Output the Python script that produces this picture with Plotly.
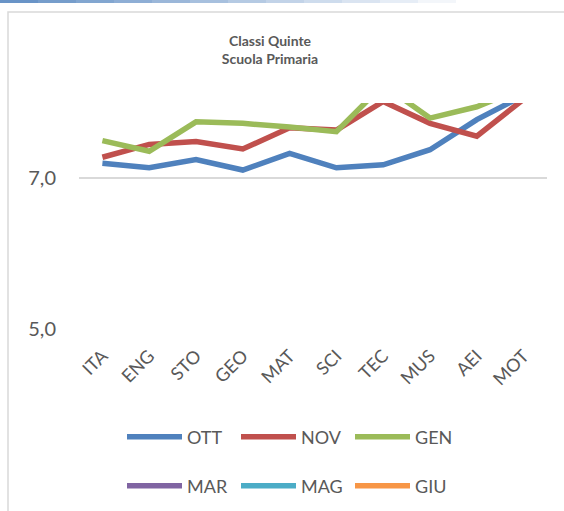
import plotly.graph_objects as go

categories = ["ITA", "ENG", "STO", "GEO", "MAT", "SCI", "TEC", "MUS", "AEI", "MOT"]
ott = [7.20, 7.14, 7.25, 7.11, 7.33, 7.14, 7.18, 7.38, 7.78, 8.10]
nov = [7.28, 7.45, 7.49, 7.39, 7.67, 7.64, 8.02, 7.73, 7.56, 8.05]
gen = [7.50, 7.36, 7.75, 7.73, 7.68, 7.62, 8.24, 7.80, 7.95, 8.20]
mar = [None] * 10
mag = [None] * 10
giu = [None] * 10

series = [
    ("OTT", ott, "#4F81BD", "legend"),
    ("NOV", nov, "#C0504D", "legend"),
    ("GEN", gen, "#9BBB59", "legend"),
    ("MAR", mar, "#8064A2", "legend2"),
    ("MAG", mag, "#4BACC6", "legend2"),
    ("GIU", giu, "#F79646", "legend2"),
]

W, H = 564, 511
L, R, T, B = 79, 17, 103, 182

fig = go.Figure()
for name, vals, color, lg in series:
    fig.add_trace(go.Scatter(
        x=categories, y=vals, name=name, mode="lines",
        line=dict(color=color, width=5.5, shape="linear"),
        legend=lg, showlegend=True, connectgaps=False,
    ))

gray = "#595959"
font_family = "Lato, 'Open Sans', sans-serif"

def px_x(p):
    return (p - L) / (W - L - R)

def px_y(p):
    return 1 - (p - T) / (H - T - B)

shapes = [
    dict(type="rect", xref="paper", yref="paper",
         x0=px_x(8), x1=px_x(600), y0=px_y(12), y1=px_y(560),
         line=dict(color="#D9D9D9", width=1.5), fillcolor="rgba(0,0,0,0)", layer="below"),
]
# top blue gradient strip
n = 12
for i in range(n):
    a = 0.85 * (1 - i / n)
    shapes.append(dict(type="rect", xref="paper", yref="paper",
                       x0=px_x(i * 38), x1=px_x((i + 1) * 38), y0=px_y(0), y1=px_y(3),
                       line=dict(width=0), fillcolor=f"rgba(79,129,189,{a:.2f})"))

leg_common = dict(orientation="h", xref="container", yref="container",
                  xanchor="left", yanchor="middle",
                  font=dict(size=18, color=gray), itemwidth=55,
                  entrywidth=44, entrywidthmode="pixels", tracegroupgap=0,
                  bgcolor="rgba(0,0,0,0)")

fig.update_layout(
    width=W, height=H,
    margin=dict(l=L, r=R, t=T, b=B, autoexpand=False),
    paper_bgcolor="white", plot_bgcolor="white",
    separators=",.",
    font=dict(family=font_family, color=gray),
    title=dict(text="<b>Classi Quinte<br>Scuola Primaria</b>",
               x=270 / W, xref="container", xanchor="center",
               y=1 - 46 / H, yref="container", yanchor="top",
               font=dict(size=14, color=gray, family=font_family)),
    xaxis=dict(
        type="category", range=[-0.5, 9.5], showgrid=False, showline=False,
        zeroline=False, tickangle=-45, tickfont=dict(size=18, color=gray),
        ticks="", automargin=False, ticklabelstandoff=12,
    ),
    yaxis=dict(
        range=[5, 8], tick0=5, dtick=2, tickformat=".1f",
        showgrid=True, gridcolor="#D9D9D9", gridwidth=1.5,
        zeroline=False, showline=False, ticks="", automargin=False,
        tickfont=dict(size=20, color=gray), ticklabelstandoff=22,
    ),
    legend=dict(leg_common, x=122 / W, y=1 - 437 / H),
    legend2=dict(leg_common, x=122 / W, y=1 - 486 / H),
    shapes=shapes,
)

fig.write_html(
    "out.html",
    config={"displayModeBar": False},
    post_script="document.body.style.margin='0';document.body.style.overflow='hidden';",
)
